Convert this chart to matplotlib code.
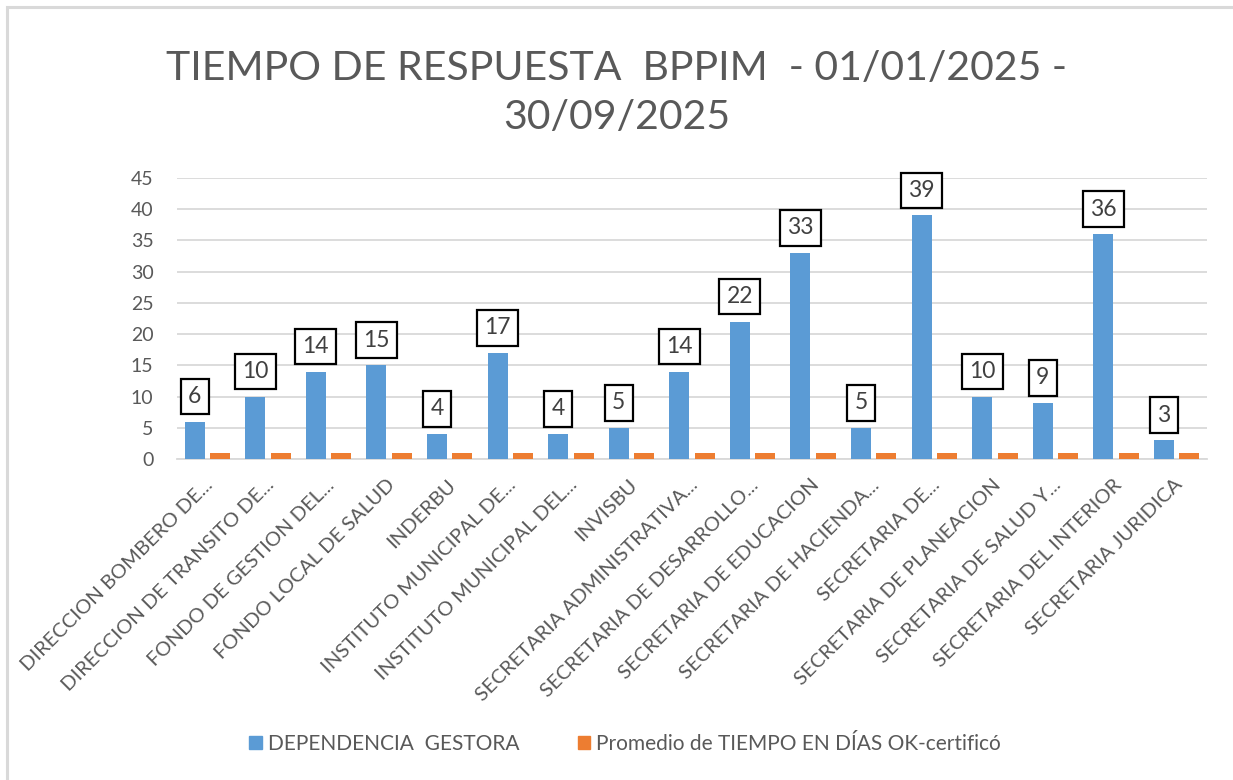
import matplotlib
matplotlib.use("Agg")
import matplotlib.pyplot as plt
from matplotlib.patches import Rectangle, Patch
from matplotlib.transforms import ScaledTranslation
import numpy as np

plt.rcParams['font.family'] = ['Lato', 'DejaVu Sans']

dependencias = [
    "DIRECCION BOMBERO DE...",
    "DIRECCION DE TRANSITO DE...",
    "FONDO DE GESTION DEL...",
    "FONDO LOCAL DE SALUD",
    "INDERBU",
    "INSTITUTO MUNICIPAL DE...",
    "INSTITUTO MUNICIPAL DEL...",
    "INVISBU",
    "SECRETARIA ADMINISTRATIVA...",
    "SECRETARIA DE DESARROLLO...",
    "SECRETARIA DE EDUCACION",
    "SECRETARIA DE HACIENDA...",
    "SECRETARIA DE...",
    "SECRETARIA DE PLANEACION",
    "SECRETARIA DE SALUD Y...",
    "SECRETARIA DEL INTERIOR",
    "SECRETARIA JURIDICA",
]
dependencia_gestora = [6, 10, 14, 15, 4, 17, 4, 5, 14, 22, 33, 5, 39, 10, 9, 36, 3]
promedio_dias = [1, 1, 1, 1, 1, 1, 1, 1, 1, 1, 1, 1, 1, 1, 1, 1, 1]
y_ticks = [0, 5, 10, 15, 20, 25, 30, 35, 40, 45]

azul = "#5B9BD5"
naranja = "#ED7D31"
gris = "#595959"

fig = plt.figure(figsize=(12.33, 7.8), dpi=100)
ax = fig.add_axes([0.1436, 0.4115, 0.8353, 0.3603])

x = np.arange(len(dependencias))
w = 0.33
off = 0.21
ax.bar(x - off, dependencia_gestora, w, color=azul, zorder=3)
ax.bar(x + off, promedio_dias, w, color=naranja, zorder=3)

# etiquetas con recuadro sobre las barras azules
for xi, v in zip(x, dependencia_gestora):
    ax.annotate(str(v), (xi - off, v), xytext=(0, 10.5), textcoords="offset points",
                ha="center", va="bottom", fontsize=16.5, color="#404040",
                bbox=dict(boxstyle="square,pad=0.32", fc="white", ec="black", lw=1.6),
                zorder=4)

ax.set_xlim(-0.5, len(dependencias) - 0.5)
ax.set_ylim(0, 45)
ax.set_yticks(y_ticks)
ax.yaxis.grid(True, color="#D9D9D9", lw=1.3, zorder=0)
for s in ["top", "right", "left"]:
    ax.spines[s].set_visible(False)
ax.spines["bottom"].set_color("#D9D9D9")
ax.spines["bottom"].set_linewidth(1.3)
ax.tick_params(axis="both", length=0, colors=gris)
ax.tick_params(axis="y", labelsize=14, pad=17)
ax.set_xticks(x)
ax.set_xticklabels(dependencias, rotation=45, ha="right", rotation_mode="anchor",
                   fontsize=14.5, color=gris)
ax.tick_params(axis="x", pad=8)
# bajar un poco las etiquetas del eje x
shift = ScaledTranslation(-3 / 100, -6 / 100, fig.dpi_scale_trans)
for lbl in ax.get_xticklabels():
    lbl.set_transform(lbl.get_transform() + shift)

fig.text(0.5, 0.881, "TIEMPO DE RESPUESTA  BPPIM  - 01/01/2025 -\n30/09/2025",
         ha="center", va="center", fontsize=29.5, color=gris, linespacing=1.42)

handles = [Patch(color=azul), Patch(color=naranja)]
fig.legend(handles, ["DEPENDENCIA  GESTORA", "Promedio de TIEMPO EN DÍAS OK-certificó"],
           loc="center", bbox_to_anchor=(0.507, 0.046), ncol=2, frameon=False,
           fontsize=15, handlelength=0.6, handleheight=0.6, handletextpad=0.3,
           columnspacing=2.8, labelcolor=gris)

fig.patches.append(Rectangle((7 / 1233, -0.05), 1.1, 1 - 7 / 780 + 0.05,
                             transform=fig.transFigure, fill=False,
                             ec="#D9D9D9", lw=2.2))

fig.savefig("out.png", dpi=100, facecolor="white")
